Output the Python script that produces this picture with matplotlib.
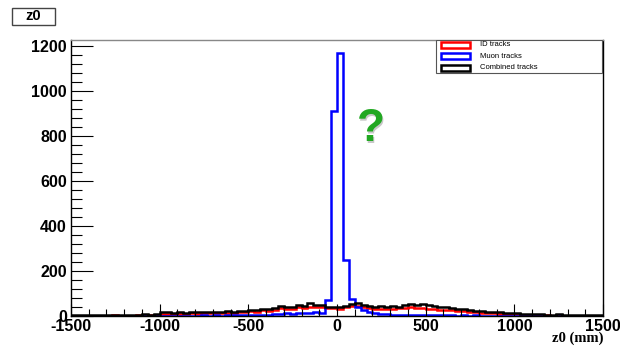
import numpy as np
import matplotlib
matplotlib.use("Agg")
import matplotlib.pyplot as plt
from matplotlib.patches import Rectangle
from matplotlib.ticker import MultipleLocator

plt.rcParams["axes.unicode_minus"] = False

# 90 bins of z0 between -1500 and 1500 mm
bin_edges = np.linspace(-1500, 1500, 91)

id_tracks = [
    1, 2, 1, 2, 1, 2, 1, 3, 2, 1, 2, 3, 2, 3, 4,
    8, 10, 9, 11, 10, 12, 10, 13, 12, 14, 13, 15, 14, 17, 18,
    22, 20, 26, 24, 28, 34, 30, 33, 38, 36,
    42, 38, 40, 36, 35,
    33, 38, 44, 46, 40,
    34, 32, 30, 33, 31, 34, 36, 38, 35, 37,
    33, 30, 28, 27, 25, 22, 24, 20, 17, 15,
    13, 12, 10, 9, 7, 8, 6, 5, 4, 4,
    3, 2, 3, 2, 2, 1, 2, 1, 1, 1,
]

muon_tracks = [
    0, 1, 0, 1, 0, 1, 0, 1, 1, 0, 1, 1, 0, 1, 1,
    1, 2, 1, 2, 1, 2, 2, 3, 2, 3, 2, 3, 3, 4, 3,
    3, 4, 5, 6, 8, 10, 12, 11, 14, 13,
    15, 18, 14, 72, 910,
    1170, 250, 74, 40, 25,
    18, 14, 10, 8, 6, 5, 4, 5, 4, 3,
    4, 3, 4, 3, 3, 2, 3, 2, 3, 2,
    2, 1, 2, 1, 1, 1, 0, 1, 0, 1,
    0, 1, 0, 0, 1, 0, 0, 1, 0, 0,
]

combined_tracks = [
    3, 5, 4, 6, 4, 5, 3, 6, 5, 4, 6, 5, 7, 6, 8,
    16, 17, 15, 18, 14, 17, 19, 16, 18, 20, 17, 21, 19, 23, 22,
    28, 25, 33, 30, 36, 44, 38, 42, 48, 45,
    56, 50, 47, 42, 40,
    38, 45, 52, 59, 50,
    44, 41, 43, 40, 45, 42, 50, 53, 48, 55,
    47, 44, 40, 38, 35, 31, 33, 28, 24, 22,
    19, 20, 17, 15, 14, 13, 10, 9, 8, 7,
    6, 5, 7, 5, 4, 6, 5, 4, 3, 4,
]

series = [
    ("ID tracks", id_tracks, "#ff0000"),
    ("Muon tracks", muon_tracks, "#0000ff"),
    ("Combined tracks", combined_tracks, "#000000"),
]

fig = plt.figure(figsize=(6.2, 3.46), dpi=100)
ax = fig.add_axes([71 / 620, 1 - 316 / 346, 532 / 620, 276 / 346])

for label, counts, color in series:
    ax.stairs(counts, bin_edges, color=color, linewidth=1.8, baseline=None)

ax.set_xlim(-1500, 1500)
ax.set_ylim(0, 1227)

ax.xaxis.set_major_locator(MultipleLocator(500))
ax.xaxis.set_minor_locator(MultipleLocator(100))
ax.yaxis.set_major_locator(MultipleLocator(200))
ax.yaxis.set_minor_locator(MultipleLocator(40))

tick_font = dict(family="Liberation Sans", weight="bold", size=11.5)
ax.tick_params(axis="both", which="both", direction="in", colors="black",
               width=0.8)
ax.tick_params(axis="y", which="major", length=16, pad=3)
ax.tick_params(axis="y", which="minor", length=8)
ax.tick_params(axis="x", which="major", length=9, pad=2)
ax.tick_params(axis="x", which="minor", length=5)
ax.tick_params(top=False, right=False, which="both")
for lab in ax.get_xticklabels() + ax.get_yticklabels():
    lab.set_fontproperties(tick_font)
    lab.set_fontweight("bold")

for side in ["left", "bottom", "right"]:
    ax.spines[side].set_color("black")
    ax.spines[side].set_linewidth(1.0)
ax.spines["top"].set_color("#888888")
ax.spines["top"].set_linewidth(1.0)

# axis title, right-aligned below the axis
ax.text(1.0, -0.055, "z0 (mm)", transform=ax.transAxes, ha="right", va="top",
        family="Liberation Serif", weight="bold", size=10.5)

# legend box
ax.add_patch(Rectangle((0.686, 0.880), 0.312, 0.120, transform=ax.transAxes,
                       facecolor="white", edgecolor="#555555", linewidth=0.8,
                       zorder=5))
rows_y = [0.982, 0.942, 0.900]
for (label, counts, color), y in zip(series, rows_y):
    ax.add_patch(Rectangle((0.696, y - 0.011), 0.054, 0.022,
                           transform=ax.transAxes, facecolor="white",
                           edgecolor=color, linewidth=1.8, zorder=6))
    ax.text(0.769, y, label, transform=ax.transAxes, ha="left", va="center",
            family="Liberation Sans", size=5.5, zorder=6)

# green question mark with a faint drop shadow
ax.text(0.5655, 0.672, "?", transform=ax.transAxes, ha="center", va="center",
        family="Liberation Sans", weight="bold", size=33, color="#c8c8c8",
        zorder=4)
ax.text(0.563, 0.676, "?", transform=ax.transAxes, ha="center", va="center",
        family="Liberation Sans", weight="bold", size=33, color="#22a822",
        zorder=4)

# title box in the top-left corner
fig.patches.append(Rectangle((12 / 620, 1 - 25 / 346), 43 / 620, 17 / 346,
                             transform=fig.transFigure, facecolor="white",
                             edgecolor="#444444", linewidth=1.0))
fig.text(33.5 / 620, 1 - 16.5 / 346, "z0", ha="center", va="center",
         family="Liberation Sans", weight="bold", size=10.5)

fig.savefig("out.png", dpi=100)
